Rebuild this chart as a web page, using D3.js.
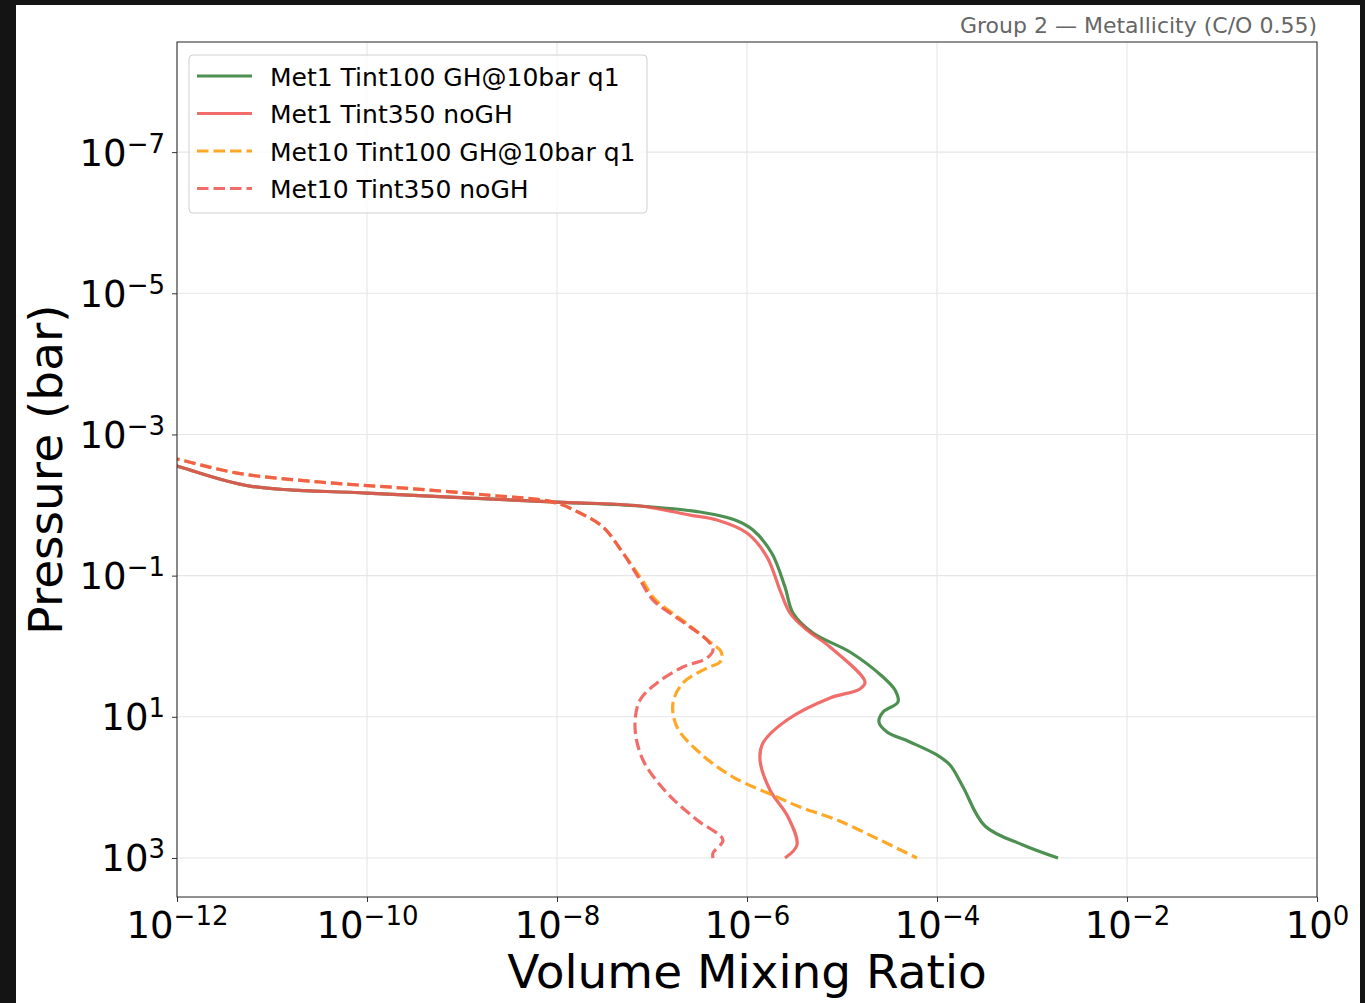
<!DOCTYPE html>
<html>
<head>
<meta charset="utf-8">
<script src="https://cdn.jsdelivr.net/npm/d3@7"></script>
<style>
  html, body { margin: 0; padding: 0; background: #141414; }
  #chart { width: 1365px; height: 1003px; }
  text { font-family: "DejaVu Sans", sans-serif; }
</style>
</head>
<body>
<div id="chart"></div>
<script>
// Values, as log10 exponents (pressure in bar, VMR)
const met1Tint100LogP   = [-2.78, -2.552, -2.269, -2.17, -2.042, -1.986, -1.901, -1.788, -1.646, -1.32, -0.839, -0.47, -0.187, 0.082, 0.437, 0.621, 0.79, 0.932, 1.074, 1.215, 1.357, 1.541, 1.683, 1.994, 2.547, 2.816, 3.0]
const met1Tint100LogVmr = [-12.6, -12, -11.232, -10, -8, -7.126, -6.495, -6.126, -5.937, -5.74, -5.6, -5.516, -5.305, -4.916, -4.568, -4.442, -4.411, -4.568, -4.611, -4.526, -4.284, -4.0, -3.863, -3.726, -3.495, -3.095, -2.726]

const met1Tint350LogP   = [-2.78, -2.552, -2.269, -2.17, -2.042, -1.986, -1.858, -1.788, -1.603, -1.263, -0.796, -0.47, -0.229, 0.011, 0.507, 0.606, 0.733, 1.045, 1.371, 1.612, 2.037, 2.419, 2.816, 3.0]
const met1Tint350LogVmr = [-12.6, -12, -11.232, -10, -8, -7.126, -6.6, -6.316, -6.0, -5.789, -5.653, -5.547, -5.368, -5.126, -4.758, -4.811, -5.126, -5.579, -5.832, -5.863, -5.758, -5.568, -5.474, -5.6]

const met10Tint100LogP   = [-2.836, -2.652, -2.453, -2.326, -2.241, -2.142, -2.042, -1.887, -1.688, -1.32, -0.938, -0.654, -0.343, -0.059, 0.054, 0.125, 0.224, 0.309, 0.521, 0.805, 1.144, 1.513, 1.853, 2.136, 2.278, 2.462, 2.745, 3.0]
const met10Tint100LogVmr = [-12.6, -12, -11.368, -10.495, -9.621, -8.737, -8.042, -7.758, -7.516, -7.305, -7.105, -6.96, -6.653, -6.389, -6.284, -6.263, -6.284, -6.421, -6.674, -6.779, -6.737, -6.495, -6.147, -5.684, -5.442, -5.053, -4.6, -4.211]

const met10Tint350LogP   = [-2.836, -2.652, -2.453, -2.326, -2.241, -2.142, -2.042, -1.887, -1.688, -1.32, -0.938, -0.654, -0.371, -0.088, 0.054, 0.167, 0.295, 0.521, 0.762, 1.144, 1.612, 2.079, 2.462, 2.745, 2.929, 3.0]
const met10Tint350LogVmr = [-12.6, -12, -11.368, -10.495, -9.621, -8.737, -8.042, -7.758, -7.516, -7.305, -7.126, -6.989, -6.705, -6.421, -6.358, -6.421, -6.674, -6.947, -7.126, -7.179, -7.095, -6.842, -6.526, -6.253, -6.358, -6.358]

const seriesNames = ['Met1 Tint100 GH@10bar q1', 'Met1 Tint350 noGH', 'Met10 Tint100 GH@10bar q1', 'Met10 Tint350 noGH']
const xTickExponents = [-12, -10, -8, -6, -4, -2, 0]
const yTickExponents = [-7, -5, -3, -1, 1, 3]

;(({
    selectorForRoot,
    d3,
    width,
    height,
    plot : { left, top, right, bottom },
    series
  }) => {
  const root = d3.select(selectorForRoot)
  const svg = root.append('svg')
    .attr('width', width)
    .attr('height', height)
  // Page frame
  svg.append('rect')
    .attr('x', 16).attr('y', 5)
    .attr('width', 1344).attr('height', height - 5)
    .attr('fill', '#fff')
  // Scales
  const xScale = d3.scaleLog()
    .domain([1e-12, 1])
    .range([left, right])
  const yScale = d3.scaleLog()
    .domain([10 ** -8.56, 10 ** 3.553])
    .range([top, bottom])
  // Grid
  const grid = svg.append('g')
  grid.selectAll('.gx')
    .data(xTickExponents)
    .enter().append('line')
    .attr('x1', e => xScale(10 ** e)).attr('x2', e => xScale(10 ** e))
    .attr('y1', top).attr('y2', bottom)
    .attr('stroke', '#e6e6e6').attr('stroke-width', 1.1)
  grid.selectAll('.gy')
    .data(yTickExponents)
    .enter().append('line')
    .attr('y1', e => yScale(10 ** e)).attr('y2', e => yScale(10 ** e))
    .attr('x1', left).attr('x2', right)
    .attr('stroke', '#e6e6e6').attr('stroke-width', 1.1)
  // Lines
  svg.append('clipPath').attr('id', 'clip')
    .append('rect')
    .attr('x', left).attr('y', top)
    .attr('width', right - left).attr('height', bottom - top)
  const line = d3.line()
    .x(d => xScale(10 ** d[1]))
    .y(d => yScale(10 ** d[0]))
    .curve(d3.curveCatmullRom.alpha(0.5))
  svg.append('g')
    .attr('clip-path', 'url(#clip)')
    .selectAll('path')
    .data(series)
    .enter().append('path')
    .attr('d', s => line(d3.zip(s.logP, s.logVmr)))
    .attr('fill', 'none')
    .attr('stroke', s => s.color)
    .attr('stroke-opacity', 0.85)
    .attr('stroke-width', 3.2)
    .attr('stroke-dasharray', s => s.dashed ? '11.5,5' : null)
    .attr('stroke-linejoin', 'round')
  // Superscript labels 10^n
  const powerLabel = (selection, anchor) => {
    selection.each(function (e) {
      const t = d3.select(this)
      t.text(null)
        .attr('text-anchor', anchor)
        .attr('fill', '#000')
        .style('font-size', '37px')
      t.append('tspan').text('10')
      t.append('tspan')
        .attr('dy', -13)
        .style('font-size', '26px')
        .text(String(e).replace('-', '\u2212'))
    })
  }
  // Axes
  const xAxis = d3.axisBottom(xScale)
    .tickValues(xTickExponents.map(e => 10 ** e))
    .tickSize(5).tickPadding(8)
  const yAxis = d3.axisLeft(yScale)
    .tickValues(yTickExponents.map(e => 10 ** e))
    .tickSize(5).tickPadding(8)
  const gx = svg.append('g')
    .attr('transform', `translate(0,${bottom})`)
    .call(xAxis)
  gx.select('.domain').remove()
  gx.selectAll('.tick line').attr('stroke', '#333')
  gx.selectAll('.tick text')
    .data(xTickExponents)
    .attr('y', 41).attr('dy', null)
    .call(powerLabel, 'middle')
  const gy = svg.append('g')
    .attr('transform', `translate(${left},0)`)
    .call(yAxis)
  gy.select('.domain').remove()
  gy.selectAll('.tick line').attr('stroke', '#333')
  gy.selectAll('.tick text')
    .data(yTickExponents)
    .attr('x', -12).attr('y', 13).attr('dy', null)
    .call(powerLabel, 'end')
  // Frame
  svg.append('rect')
    .attr('x', left).attr('y', top)
    .attr('width', right - left).attr('height', bottom - top)
    .attr('fill', 'none').attr('stroke', '#222').attr('stroke-width', 1)
  // Axis titles
  svg.append('text')
    .attr('x', (left + right) / 2).attr('y', 988)
    .attr('text-anchor', 'middle')
    .style('font-size', '47px')
    .text('Volume Mixing Ratio')
  svg.append('text')
    .attr('transform', `translate(62,${(top + bottom) / 2}) rotate(-90)`)
    .attr('text-anchor', 'middle')
    .style('font-size', '47px')
    .text('Pressure (bar)')
  // Title
  svg.append('text')
    .attr('x', right).attr('y', 33)
    .attr('text-anchor', 'end')
    .attr('fill', '#666')
    .style('font-size', '22px')
    .text('Group 2 \u2014 Metallicity (C/O 0.55)')
  // Legend
  const legend = svg.append('g')
  legend.append('rect')
    .attr('x', 189).attr('y', 55)
    .attr('width', 458).attr('height', 158)
    .attr('rx', 4)
    .attr('fill', '#fff').attr('fill-opacity', 0.8)
    .attr('stroke', '#d0d0d0').attr('stroke-width', 1)
  const rows = legend.selectAll('.row')
    .data(series)
    .enter().append('g')
    .attr('transform', (s, i) => `translate(0,${76 + i * 37.5})`)
  rows.append('line')
    .attr('x1', 197).attr('x2', 252)
    .attr('stroke', s => s.color)
    .attr('stroke-opacity', 0.85)
    .attr('stroke-width', 3.2)
    .attr('stroke-dasharray', s => s.dashed ? '11.5,5' : null)
  rows.append('text')
    .attr('x', 270).attr('y', 9.5)
    .style('font-size', '25px')
    .text(s => s.name)
})({
  selectorForRoot : '#chart',
  d3 : d3,
  width : 1365,
  height : 1003,
  plot : { left : 177, top : 42, right : 1317, bottom : 897 },
  series : [
    { name : seriesNames[0], logP : met1Tint100LogP, logVmr : met1Tint100LogVmr, color : '#2e7d32', dashed : false },
    { name : seriesNames[1], logP : met1Tint350LogP, logVmr : met1Tint350LogVmr, color : '#ef5350', dashed : false },
    { name : seriesNames[2], logP : met10Tint100LogP, logVmr : met10Tint100LogVmr, color : '#ff9800', dashed : true },
    { name : seriesNames[3], logP : met10Tint350LogP, logVmr : met10Tint350LogVmr, color : '#ef5350', dashed : true }
  ]
});
</script>
</body>
</html>
